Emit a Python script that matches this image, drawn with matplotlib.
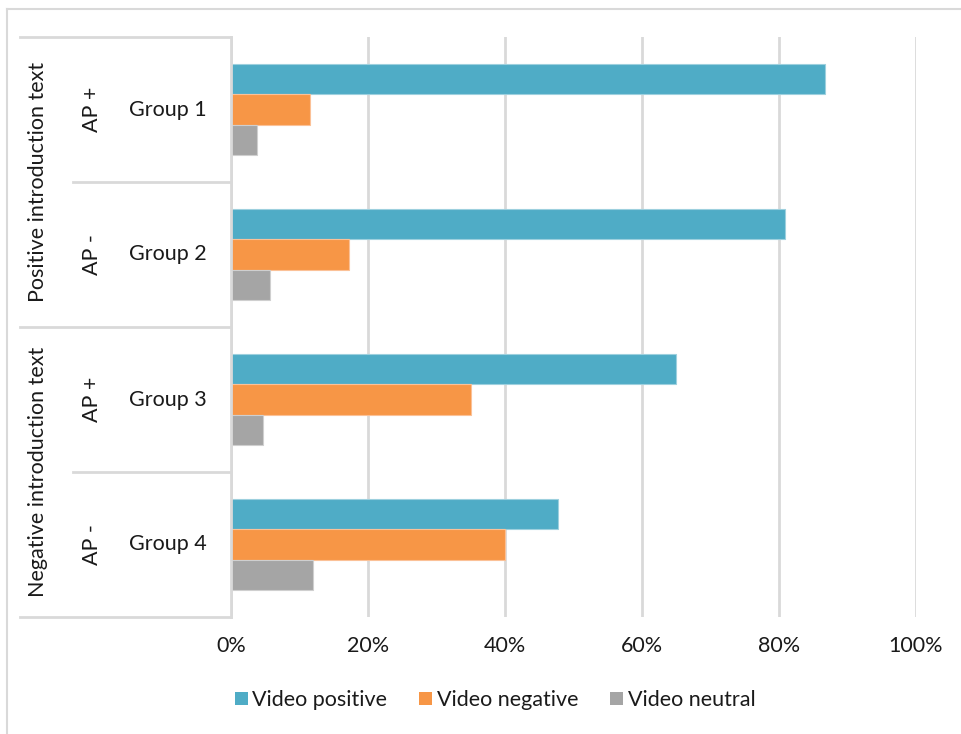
import matplotlib.pyplot as plt
from matplotlib.lines import Line2D
from matplotlib.patches import Patch
import numpy as np

plt.rcParams['font.family'] = ['Lato', 'DejaVu Sans']

groups = ['Group 1', 'Group 2', 'Group 3', 'Group 4']
ap_labels = ['AP +', 'AP -', 'AP +', 'AP -']
intro_labels = ['Positive introduction text', 'Negative introduction text']
series = ['Video positive', 'Video negative', 'Video neutral']
video_positive = [0.867, 0.809, 0.650, 0.478]
video_negative = [0.115, 0.172, 0.350, 0.400]
video_neutral = [0.038, 0.057, 0.046, 0.120]
colors = ['#4FACC6', '#F79646', '#A5A5A5']
edges = ['#9dd0de', '#fbc197', '#cfcfcf']

grid_c = '#d9d9d9'
txt_c = '#1a1a1a'
fs = 15.5

fig = plt.figure(figsize=(9.61, 7.34), dpi=100)
ax = fig.add_axes([231 / 961, 1 - 617 / 734, 685 / 961, 580 / 734])

y = np.arange(len(groups))
h = 0.207
for k, vals in enumerate([video_positive, video_negative, video_neutral]):
    ax.barh(y + (k - 1) * h, vals, height=h, color=colors[k],
            edgecolor=edges[k], linewidth=0.8, zorder=3)

ax.set_xlim(0, 1)
ax.set_ylim(3.5, -0.5)
ax.set_xticks(np.linspace(0, 1, 6))
ax.set_xticklabels([f'{int(round(v * 100))}%' for v in np.linspace(0, 1, 6)])
ax.tick_params(axis='x', length=0, pad=14, labelsize=fs, colors=txt_c)
ax.set_yticks([])
ax.grid(axis='x', color=grid_c, linewidth=2, zorder=0)
for s in ['top', 'right', 'bottom']:
    ax.spines[s].set_visible(False)
ax.spines['left'].set_color(grid_c)
ax.spines['left'].set_linewidth(2)
ax.spines['left'].set_zorder(4)

# table-like category labels on the left
tr = ax.get_yaxis_transform()
x_outer = (20 - 231) / 685
x_inner = (73 - 231) / 685
for b in [-0.5, 1.5, 3.5]:
    ax.plot([x_outer, 0], [b, b], transform=tr, color=grid_c, lw=2, clip_on=False)
for b in [0.5, 2.5]:
    ax.plot([x_inner, 0], [b, b], transform=tr, color=grid_c, lw=2, clip_on=False)

for i in range(len(groups)):
    ax.text((168 - 231) / 685, i, groups[i], transform=tr, ha='center', va='center',
            fontsize=fs, color=txt_c)
    ax.text((92 - 231) / 685, i, ap_labels[i], transform=tr, ha='center', va='center',
            rotation=90, fontsize=fs, color=txt_c)
for j in range(len(intro_labels)):
    ax.text((38 - 231) / 685, 2 * j + 0.5, intro_labels[j], transform=tr, ha='center',
            va='center', rotation=90, fontsize=fs, color=txt_c)

# outer chart border (cropped)
fig.add_artist(Line2D([7 / 961, 1], [1 - 9 / 734, 1 - 9 / 734], color=grid_c, lw=1.5))
fig.add_artist(Line2D([7 / 961, 7 / 961], [0, 1 - 9 / 734], color=grid_c, lw=1.5))

handles = [Patch(facecolor=c, edgecolor='none') for c in colors]
fig.legend(handles, series, loc='center', bbox_to_anchor=(495 / 961, 1 - 700 / 734),
           ncol=3, frameon=False, fontsize=fs, handlelength=0.6, handleheight=0.6,
           handletextpad=0.2, columnspacing=1.5, labelcolor=txt_c)

fig.savefig('out.png', dpi=100)
